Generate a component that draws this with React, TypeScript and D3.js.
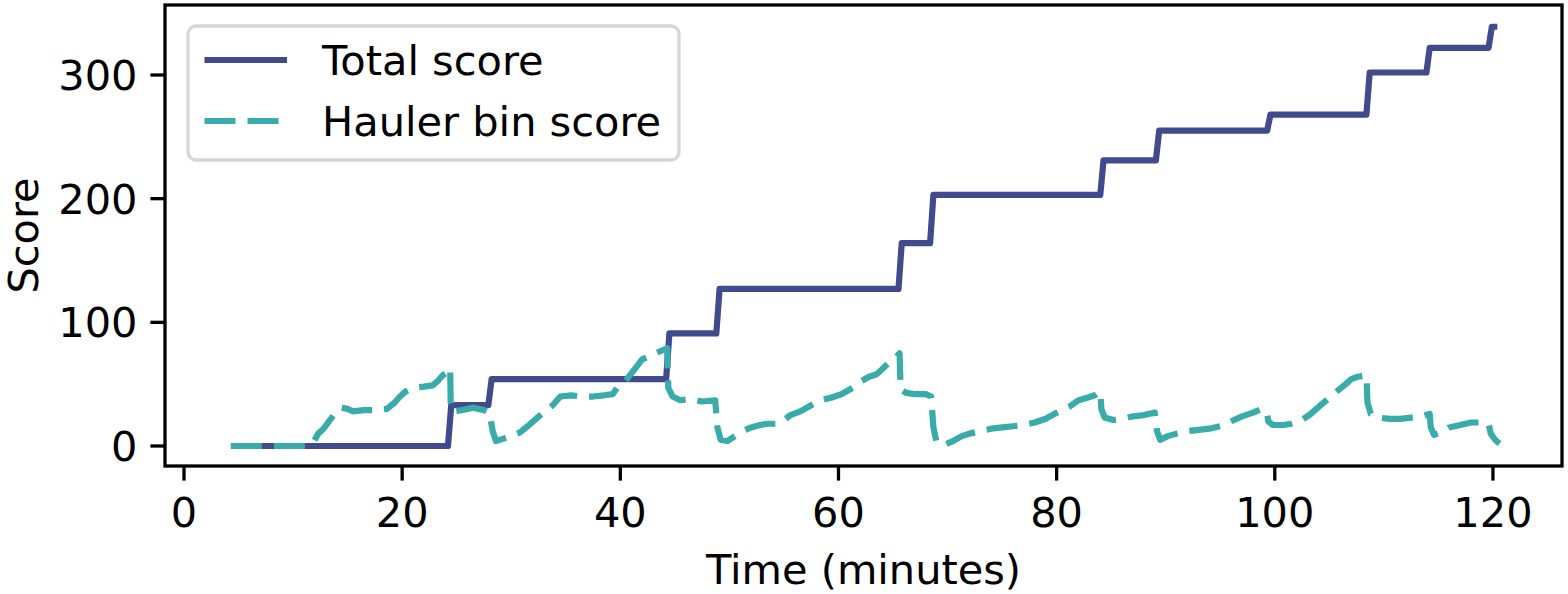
import React from "react";
import * as d3 from "d3";

// ---- data ----
const seriesNames = ["Total score", "Hauler bin score"];
const seriesColors = ["#414a8c", "#3aabab"];

const totalTime = [4.3, 24.2, 24.5, 27.9, 28.2, 44.2, 44.5, 48.8, 49.1, 65.5, 65.8, 68.4, 68.7, 84.0, 84.3, 89.1, 89.4, 99.3, 99.6, 108.4, 108.7, 113.9, 114.2, 119.6, 119.9, 120.4];
const totalScore = [0, 0, 33, 33, 54, 54, 91, 91, 127, 127, 164, 164, 203, 203, 231, 231, 255, 255, 268, 268, 302, 302, 322, 322, 339, 339];

const haulerTime = [
  4.3, 11.2, 11.8, 12.3, 12.8, 13.3, 13.8, 14.4, 15.0, 15.5, 16.5, 17.5, 18.6, 19.3, 19.8, 20.3, 21.0, 22.0, 22.8, 23.2, 23.7, 24.2, 24.4,
  24.45, 24.6, 25.5, 26.5, 27.5, 28.0, 28.3, 28.6, 29.3, 30.0, 30.8, 31.5, 32.4, 33.2, 33.8, 34.5, 35.5, 36.5, 37.5, 38.5, 39.3, 39.8,
  40.5, 41.3, 42.0, 42.8, 43.5, 44.3, 44.4, 44.8, 45.5, 46.5, 47.5, 48.7, 48.9, 49.2, 49.8, 50.5, 51.2, 52.0, 52.8, 53.5, 54.5, 55.0,
  55.6, 56.5, 57.5, 58.3, 59.3, 60.3, 61.3, 62.0, 62.8, 63.5, 64.0, 64.7, 65.3, 65.6, 65.7, 66.2, 67.0, 68.0, 68.5, 68.7, 69.0, 69.7,
  70.5, 71.3, 72.0, 73.0, 74.0, 75.0, 76.0, 77.0, 78.0, 79.0, 79.8, 80.5, 81.2, 82.0, 82.8, 83.5, 84.0, 84.1, 84.4, 85.2, 86.0, 87.0,
  88.0, 89.0, 89.2, 89.5, 90.2, 91.0, 92.0, 93.0, 94.0, 95.0, 96.0, 97.0, 98.0, 98.8, 99.3, 99.4, 99.8, 100.8, 101.5, 102.5, 103.3,
  104.2, 105.0, 105.8, 106.5, 107.0, 107.6, 108.4, 108.5, 108.8, 109.5, 110.5, 111.5, 112.5, 113.5, 114.2, 114.3, 114.6, 115.3, 116.0,
  117.0, 118.0, 119.0, 119.6, 119.8, 120.2, 120.6,
];
const haulerScore = [
  0, 0, 2, 10, 14, 20, 26, 31, 30, 28, 29, 29, 30, 35, 40, 44, 47, 48, 49, 52, 57, 60, 63,
  35, 28, 29, 31, 29, 27, 12, 4, 6, 8, 11, 16, 23, 29, 33, 40, 41, 40, 40, 41, 42, 48,
  53, 62, 70, 73, 76, 79, 47, 40, 37, 38, 36, 37, 15, 5, 4, 8, 12, 15, 17, 18, 18, 21,
  25, 28, 33, 37, 39, 42, 47, 52, 56, 58, 62, 68, 72, 75, 46, 43, 42, 42, 40, 15, 3, 1,
  4, 8, 10, 12, 14, 15, 16, 17, 19, 22, 26, 29, 32, 37, 39, 41, 44, 30, 23, 21, 22, 24,
  25, 27, 12, 5, 8, 10, 12, 13, 14, 16, 20, 24, 27, 30, 27, 20, 17, 17, 18, 21, 26,
  33, 39, 45, 50, 54, 56, 57, 35, 26, 23, 22, 22, 23, 24, 26, 15, 9, 11, 15,
  17, 19, 19, 18, 10, 5, 2,
];

const xTicks = [0, 20, 40, 60, 80, 100, 120];
const yTicks = [0, 100, 200, 300];
const xLabel = "Time (minutes)";
const yLabel = "Score";

// ---- layout ----
const W = 1568;
const H = 594;
const L = 165, R = 1562, T = 5, B = 466;
const FONT = "'DejaVu Sans', sans-serif";
const FS = 41.5;

export default function App() {
  const x = d3.scaleLinear().domain([-1.742, 126.33]).range([L, R]);
  const y = d3.scaleLinear().domain([-16.17, 356.6]).range([B, T]);

  const line = d3
    .line<[number, number]>()
    .x((d) => x(d[0]))
    .y((d) => y(d[1]));

  const totalPts = totalTime.map((t, i) => [t, totalScore[i]] as [number, number]);
  const haulerPts = haulerTime.map((t, i) => [t, haulerScore[i]] as [number, number]);

  const lw = 6.2;
  const dash = "31 12";

  return (
    <div style={{ position: "absolute", left: 0, top: 0 }}>
      <svg width={W} height={H} style={{ display: "block", background: "#fff" }} fontFamily={FONT}>
        <defs>
          <clipPath id="plotclip">
            <rect x={L} y={T} width={R - L} height={B - T} />
          </clipPath>
        </defs>
        <rect x={0} y={0} width={W} height={H} fill="#fff" />
        <g clipPath="url(#plotclip)">
          <path d={line(totalPts) || ""} fill="none" stroke={seriesColors[0]} strokeWidth={lw} strokeLinejoin="round" />
          <path d={line(haulerPts) || ""} fill="none" stroke={seriesColors[1]} strokeWidth={lw} strokeLinejoin="round" strokeDasharray={dash} />
        </g>
        {/* spines */}
        <rect x={L} y={T} width={R - L} height={B - T} fill="none" stroke="#000" strokeWidth={3.3} />
        {/* x ticks */}
        {xTicks.map((t) => (
          <g key={"x" + t}>
            <line x1={x(t)} x2={x(t)} y1={B} y2={B + 14.6} stroke="#000" strokeWidth={3.3} />
            <text x={x(t)} y={527} fontSize={FS} textAnchor="middle" fill="#000">
              {t}
            </text>
          </g>
        ))}
        {/* y ticks */}
        {yTicks.map((t) => (
          <g key={"y" + t}>
            <line x1={L - 14.6} x2={L} y1={y(t)} y2={y(t)} stroke="#000" strokeWidth={3.3} />
            <text x={137.5} y={y(t)} dy="0.36em" fontSize={FS} textAnchor="end" fill="#000">
              {t}
            </text>
          </g>
        ))}
        <text x={(L + R) / 2} y={584} fontSize={FS} textAnchor="middle" fill="#000">
          {xLabel}
        </text>
        <text transform={`translate(37.5, ${(T + B) / 2}) rotate(-90)`} fontSize={FS} textAnchor="middle" fill="#000">
          {yLabel}
        </text>
        {/* legend */}
        <g>
          <rect x={188} y={26} width={491} height={134} rx={8} fill="#fff" fillOpacity={0.8} stroke="#d6d6d6" strokeWidth={3.3} />
          {seriesNames.map((name, i) => (
            <g key={name}>
              <line
                x1={204.5}
                x2={287}
                y1={60 + i * 61}
                y2={60 + i * 61}
                stroke={seriesColors[i]}
                strokeWidth={lw}
                strokeDasharray={i === 1 ? dash : undefined}
              />
              <text x={322} y={75 + i * 61} fontSize={FS} fill="#000">
                {name}
              </text>
            </g>
          ))}
        </g>
      </svg>
    </div>
  );
}
